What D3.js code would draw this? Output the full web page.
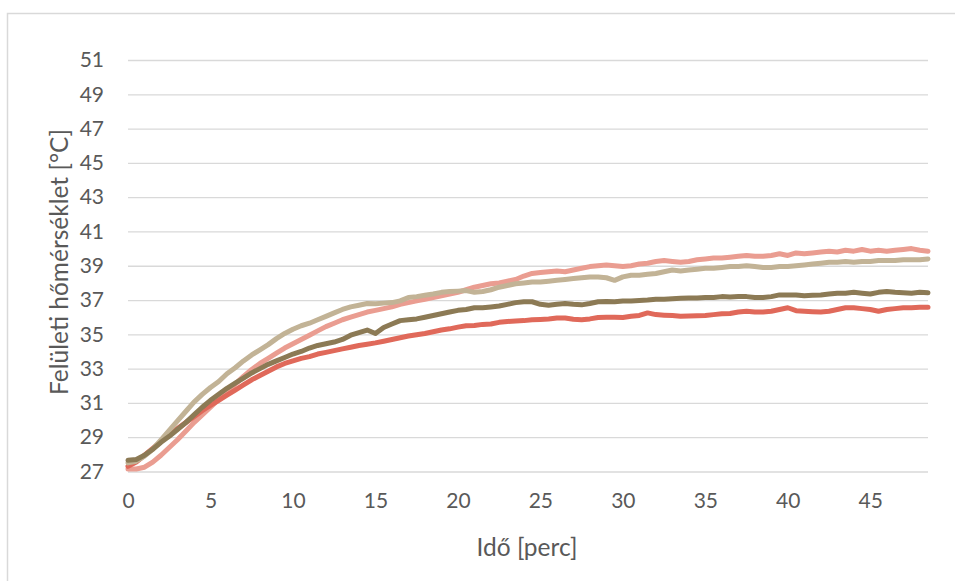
<!DOCTYPE html>
<html>
<head>
<meta charset="utf-8">
<script src="https://cdn.jsdelivr.net/npm/d3@7"></script>
<style>
  html, body { margin: 0; padding: 0; background: #fff; }
  svg { display: block; }
</style>
</head>
<body>
<svg id="chart" width="955" height="581"></svg>
<script>
// Surface temperature over time, four measurement series, sampled every half minute.
const timeStep = 0.5;           // minutes between samples
const timeMax = 48.5;           // last sample time
const xTicks = [0, 5, 10, 15, 20, 25, 30, 35, 40, 45];
const yTicks = [27, 29, 31, 33, 35, 37, 39, 41, 43, 45, 47, 49, 51];
const xTitle = "Idő [perc]";
const yTitle = "Felületi hőmérséklet [°C]";

// 0 .. 48.5 min
const seriesPink = [
  27.15, 27.15, 27.25, 27.55, 27.95, 28.40, 28.85, 29.35, 29.85, 30.30,
  30.75, 31.20, 31.65, 32.10, 32.55, 32.95, 33.30, 33.60, 33.90, 34.20,
  34.45, 34.70, 34.95, 35.20, 35.45, 35.65, 35.85, 36.00, 36.15, 36.30,
  36.40, 36.50, 36.60, 36.75, 36.85, 36.95, 37.05, 37.15, 37.25, 37.35,
  37.45, 37.60, 37.75, 37.85, 37.95, 38.00, 38.10, 38.20, 38.40, 38.55,
  38.60, 38.65, 38.70, 38.65, 38.75, 38.85, 38.95, 39.00, 39.05, 39.00,
  38.95, 39.00, 39.10, 39.15, 39.25, 39.30, 39.25, 39.20, 39.25, 39.35,
  39.40, 39.45, 39.45, 39.50, 39.55, 39.60, 39.55, 39.55, 39.60, 39.70,
  39.60, 39.75, 39.70, 39.75, 39.80, 39.85, 39.80, 39.90, 39.85, 39.95,
  39.85, 39.90, 39.85, 39.90, 39.95, 40.00, 39.90, 39.85
];
const seriesRed = [
  27.30, 27.55, 27.95, 28.35, 28.75, 29.15, 29.50, 29.85, 30.20, 30.55,
  30.85, 31.15, 31.45, 31.75, 32.05, 32.35, 32.60, 32.85, 33.10, 33.30,
  33.45, 33.60, 33.70, 33.85, 33.95, 34.05, 34.15, 34.25, 34.35, 34.42,
  34.50, 34.60, 34.70, 34.80, 34.90, 34.98, 35.05, 35.15, 35.25, 35.32,
  35.42, 35.50, 35.52, 35.58, 35.60, 35.70, 35.75, 35.78, 35.80, 35.85,
  35.87, 35.90, 35.95, 35.95, 35.88, 35.85, 35.90, 35.98, 36.00, 36.00,
  35.98, 36.05, 36.10, 36.25, 36.15, 36.12, 36.10, 36.05, 36.07, 36.08,
  36.10, 36.15, 36.20, 36.22, 36.30, 36.35, 36.30, 36.30, 36.35, 36.45,
  36.55, 36.38, 36.35, 36.32, 36.30, 36.35, 36.45, 36.55, 36.55, 36.50,
  36.45, 36.35, 36.45, 36.50, 36.55, 36.55, 36.58, 36.58
];
const seriesTan = [
  27.50, 27.60, 27.90, 28.30, 28.85, 29.40, 29.95, 30.50, 31.05, 31.50,
  31.90, 32.25, 32.70, 33.05, 33.45, 33.80, 34.10, 34.40, 34.75, 35.05,
  35.30, 35.50, 35.65, 35.85, 36.05, 36.25, 36.45, 36.60, 36.70, 36.80,
  36.78, 36.82, 36.85, 36.95, 37.15, 37.20, 37.28, 37.35, 37.45, 37.50,
  37.52, 37.55, 37.45, 37.50, 37.60, 37.75, 37.85, 37.95, 38.00, 38.05,
  38.05, 38.10, 38.15, 38.20, 38.25, 38.30, 38.35, 38.35, 38.30, 38.15,
  38.35, 38.45, 38.45, 38.50, 38.55, 38.65, 38.75, 38.70, 38.75, 38.80,
  38.85, 38.85, 38.90, 38.95, 38.95, 39.00, 38.95, 38.90, 38.90, 38.95,
  38.95, 39.00, 39.05, 39.10, 39.15, 39.20, 39.20, 39.25, 39.20, 39.25,
  39.25, 39.30, 39.30, 39.30, 39.35, 39.35, 39.35, 39.40
];
const seriesOlive = [
  27.65, 27.70, 27.95, 28.30, 28.70, 29.05, 29.45, 29.85, 30.30, 30.75,
  31.15, 31.50, 31.85, 32.15, 32.45, 32.75, 33.00, 33.25, 33.45, 33.65,
  33.85, 34.00, 34.20, 34.35, 34.45, 34.55, 34.70, 34.95, 35.10, 35.25,
  35.05, 35.40, 35.60, 35.80, 35.85, 35.90, 36.00, 36.10, 36.20, 36.30,
  36.40, 36.45, 36.55, 36.55, 36.60, 36.65, 36.75, 36.85, 36.90, 36.90,
  36.75, 36.70, 36.75, 36.80, 36.75, 36.72, 36.80, 36.90, 36.92, 36.90,
  36.95, 36.95, 36.98, 37.00, 37.05, 37.05, 37.08, 37.10, 37.12, 37.12,
  37.15, 37.15, 37.20, 37.18, 37.20, 37.20, 37.15, 37.15, 37.20, 37.30,
  37.30, 37.30, 37.25, 37.28, 37.30, 37.35, 37.40, 37.40, 37.45, 37.40,
  37.35, 37.45, 37.50, 37.45, 37.42, 37.40, 37.45, 37.42
];

const series = [
  { name: "pink",  values: seriesPink,  color: "#EA9D91" },
  { name: "red",   values: seriesRed,   color: "#E0695A" },
  { name: "tan",   values: seriesTan,   color: "#C2B396" },
  { name: "olive", values: seriesOlive, color: "#8C7A55" }
];

const svg = d3.select("#chart");
const font = "Lato, 'Open Sans', sans-serif";

// outer frame
svg.append("rect")
  .attr("x", 7.5).attr("y", 13.5)
  .attr("width", 980).attr("height", 600)
  .attr("fill", "#fff")
  .attr("stroke", "#d9d9d9").attr("stroke-width", 1.5);

const plot = { left: 128, right: 928, top: 60, bottom: 471.5 };

const x = d3.scaleLinear().domain([0, timeMax]).range([plot.left, plot.right]);
const y = d3.scaleLinear().domain([27, 51]).range([plot.bottom, plot.top]);

// horizontal gridlines
const yAxis = d3.axisLeft(y).tickValues(yTicks).tickSize(-(plot.right - plot.left)).tickPadding(24).tickFormat(d3.format("d"));
const gy = svg.append("g").attr("transform", `translate(${plot.left},0)`).call(yAxis);
gy.select(".domain").remove();
gy.selectAll(".tick line").attr("stroke", "#d9d9d9").attr("stroke-width", 1.3);
gy.selectAll(".tick text")
  .attr("fill", "#595959")
  .style("font-family", font).style("font-size", "21px");

// x axis labels only
const xAxis = d3.axisBottom(x).tickValues(xTicks).tickSize(0).tickPadding(22).tickFormat(d3.format("d"));
const gx = svg.append("g").attr("transform", `translate(0,${plot.bottom})`).call(xAxis);
gx.select(".domain").remove();
gx.selectAll(".tick text")
  .attr("fill", "#595959")
  .style("font-family", font).style("font-size", "21px");

// series lines
const line = d3.line()
  .x((d, i) => x(i * timeStep))
  .y(d => y(d));

svg.append("g").selectAll("path")
  .data(series)
  .join("path")
  .attr("d", s => line(s.values))
  .attr("fill", "none")
  .attr("stroke", s => s.color)
  .attr("stroke-width", 5)
  .attr("stroke-linejoin", "round")
  .attr("stroke-linecap", "round");

// axis titles
svg.append("text")
  .attr("x", 527).attr("y", 556)
  .attr("text-anchor", "middle")
  .attr("fill", "#595959")
  .style("font-family", font).style("font-size", "24.5px")
  .text(xTitle);

svg.append("text")
  .attr("transform", `translate(68,262) rotate(-90)`)
  .attr("text-anchor", "middle")
  .attr("fill", "#595959")
  .style("font-family", font).style("font-size", "24.5px")
  .text(yTitle);
</script>
</body>
</html>
